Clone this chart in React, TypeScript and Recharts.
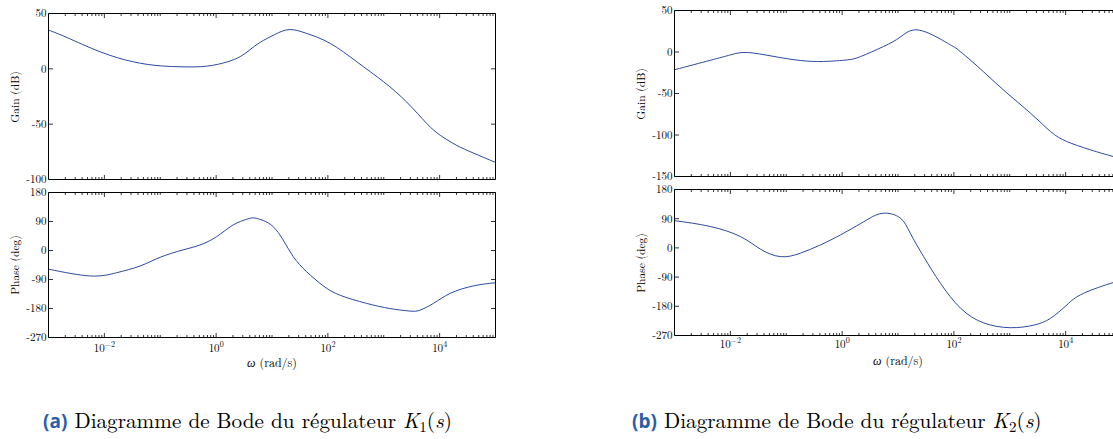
import React from "react";
import { LineChart, Line, XAxis, YAxis } from "recharts";

// ---------- data ----------
const K1_GAIN_W = [0.001, 0.00214, 0.00851, 0.0331, 0.1, 0.257, 0.676, 1.585, 2.69, 3.98, 6.17, 11.2, 20.4, 41.7, 110, 331, 1000, 2570, 5890, 10230, 19950, 39810, 100000];
const K1_GAIN_DB = [35, 28.3, 15.3, 6.3, 2.7, 1.8, 2.4, 6.3, 11, 17, 24, 31, 35.5, 32, 23, 6.3, -11.8, -30, -49.4, -60, -69, -76, -84.6];

const K1_PHASE_W = [0.001, 0.00562, 0.0166, 0.0437, 0.1, 0.257, 0.513, 1.02, 2.0, 3.55, 4.8, 7.0, 10.5, 15.8, 24, 41.7, 83.2, 166, 490, 1288, 2951, 4467, 7762, 15490, 39810, 100000];
const K1_PHASE_DEG = [-58, -79, -69, -48, -21, 2, 17, 43, 79, 97, 101, 93, 74, 33, -19, -66, -110, -139, -164, -180, -188, -185, -164, -133, -110, -100];

const K2_GAIN_W = [0.001, 0.00437, 0.01, 0.02, 0.0603, 0.178, 0.468, 1.23, 2.14, 5.5, 11, 21.9, 57.5, 90, 132, 339, 891, 2344, 5370, 10470, 27540, 70790, 100000];
const K2_GAIN_DB = [-21.4, -10, -3.5, -0.6, -5.4, -10.2, -11.4, -9.5, -5.5, 6.6, 18, 26.7, 15.5, 8, 0.3, -23.8, -49.5, -73.6, -95.8, -107.8, -117.8, -125.9, -128.5];

const K2_PHASE_W = [0.001, 0.00437, 0.0151, 0.0347, 0.0794, 0.178, 0.407, 0.933, 2.14, 3.16, 5.5, 11, 16.6, 28.8, 57.5, 132, 339, 1023, 2692, 5370, 10470, 20890, 70790, 100000];
const K2_PHASE_DEG = [84, 66, 35, -4, -27, -16.5, 9, 40, 75, 92, 107, 92, 45, -27, -109, -186, -231, -246, -238, -217, -176, -140, -107, -103];

const X_DOMAIN: [number, number] = [0.001, 100000];
const MAJOR_TICKS = [0.01, 1, 100, 10000];
const MAJOR_EXP = ["\u22122", "0", "2", "4"];

const K1_GAIN_TICKS = [50, 0, -50, -100];
const K2_GAIN_TICKS = [50, 0, -50, -100, -150];
const PHASE_TICKS = [180, 90, 0, -90, -180, -270];

// ---------- helpers ----------
function buildMinorTicks(): number[] {
  const out: number[] = [];
  for (let e = -3; e <= 4; e++) {
    for (let k = 1; k <= 9; k++) {
      if (k === 1 && (e === -3 || e % 2 === 0)) continue;
      out.push(k * Math.pow(10, e));
    }
  }
  return out;
}
const X_TICKS = [...MAJOR_TICKS, ...buildMinorTicks()].sort((a, b) => a - b);

function majorIndex(v: number) {
  return MAJOR_TICKS.findIndex((m) => Math.abs(v / m - 1) < 1e-6);
}

function zip(w: number[], v: number[]) {
  return w.map((x, i) => ({ w: x, v: v[i] }));
}

const FONT = "'Latin Modern Roman', 'Times New Roman', serif";
const CURVE = "#2b4aa0";
const MAJ = 4.5;
const MIN = 2.5;

const makeBottomTick = (showLabel: boolean, labelDy: number) => (props: any) => {
  const { x, y, payload } = props;
  const idx = majorIndex(payload.value);
  const len = idx >= 0 ? MAJ : MIN;
  return (
    <g>
      <line x1={x} y1={y} x2={x} y2={y - len} stroke="#000" strokeWidth={0.8} />
      {showLabel && idx >= 0 && (
        <text x={x} y={y + labelDy} textAnchor="middle" fontFamily={FONT} fontSize={11} fill="#000">
          10
          <tspan dy={-5} fontSize={8}>{MAJOR_EXP[idx]}</tspan>
        </text>
      )}
    </g>
  );
};

const TopTick = (props: any) => {
  const { x, y, payload } = props;
  const idx = majorIndex(payload.value);
  const len = idx >= 0 ? MAJ : MIN;
  return <line x1={x} y1={y} x2={x} y2={y + len} stroke="#000" strokeWidth={0.8} />;
};

const LeftTick = (props: any) => {
  const { x, y, payload } = props;
  return (
    <g>
      <line x1={x} y1={y} x2={x + MAJ} y2={y} stroke="#000" strokeWidth={0.8} />
      <text x={x - 2} y={y} dy="0.35em" textAnchor="end" fontFamily={FONT} fontSize={11} fill="#000">
        {String(payload.value)}
      </text>
    </g>
  );
};

const RightTick = (props: any) => {
  const { x, y } = props;
  return <line x1={x} y1={y} x2={x - MAJ} y2={y} stroke="#000" strokeWidth={0.8} />;
};

type PanelProps = {
  plotLeft: number;
  plotTop: number;
  plotW: number;
  plotH: number;
  bottomArea: number;
  w: number[];
  v: number[];
  yDomain: [number, number];
  yTicks: number[];
  showX: boolean;
  labelDy: number;
};

const LEFT_AREA = 48.5;
const TOP_AREA = 12.5;
const RIGHT_AREA = 20;

function Panel(p: PanelProps) {
  const data = zip(p.w, p.v);
  const width = LEFT_AREA + p.plotW + RIGHT_AREA;
  const height = TOP_AREA + p.plotH + p.bottomArea;
  return (
    <div style={{ position: "absolute", left: p.plotLeft - LEFT_AREA, top: p.plotTop - TOP_AREA, width, height }}>
      <LineChart width={width} height={height} data={data} margin={{ top: 0, right: 0, bottom: 0, left: 0 }}>
        <XAxis
          xAxisId="b"
          dataKey="w"
          type="number"
          scale="log"
          domain={X_DOMAIN}
          allowDataOverflow
          ticks={X_TICKS}
          interval={0}
          height={p.bottomArea}
          tickSize={0}
          tickMargin={0}
          tickLine={false}
          axisLine={{ stroke: "#000", strokeWidth: 1 }}
          tick={makeBottomTick(p.showX, p.labelDy)}
        />
        <XAxis
          xAxisId="t"
          orientation="top"
          dataKey="w"
          type="number"
          scale="log"
          domain={X_DOMAIN}
          allowDataOverflow
          ticks={X_TICKS}
          interval={0}
          height={TOP_AREA}
          tickSize={0}
          tickMargin={0}
          tickLine={false}
          axisLine={{ stroke: "#000", strokeWidth: 1 }}
          tick={TopTick}
        />
        <YAxis
          yAxisId="l"
          type="number"
          domain={p.yDomain}
          allowDataOverflow
          ticks={p.yTicks}
          interval={0}
          width={LEFT_AREA}
          tickSize={0}
          tickMargin={0}
          tickLine={false}
          axisLine={{ stroke: "#000", strokeWidth: 1 }}
          tick={LeftTick}
        />
        <YAxis
          yAxisId="r"
          orientation="right"
          type="number"
          domain={p.yDomain}
          allowDataOverflow
          ticks={p.yTicks}
          interval={0}
          width={RIGHT_AREA}
          tickSize={0}
          tickMargin={0}
          tickLine={false}
          axisLine={{ stroke: "#000", strokeWidth: 1 }}
          tick={RightTick}
        />
        <Line
          xAxisId="b"
          yAxisId="l"
          type="natural"
          dataKey="v"
          stroke={CURVE}
          strokeWidth={1}
          dot={false}
          activeDot={false}
          isAnimationActive={false}
        />
        <Line
          xAxisId="t"
          yAxisId="r"
          type="natural"
          dataKey="v"
          stroke="none"
          dot={false}
          activeDot={false}
          isAnimationActive={false}
        />
      </LineChart>
    </div>
  );
}

function YTitle({ cx, cy, text }: { cx: number; cy: number; text: string }) {
  return (
    <div
      style={{
        position: "absolute",
        left: cx,
        top: cy,
        transform: "translate(-50%, -50%) rotate(-90deg)",
        whiteSpace: "nowrap",
        fontFamily: FONT,
        fontSize: 11.5,
        lineHeight: 1,
        color: "#000",
      }}
    >
      {text}
    </div>
  );
}

function XTitle({ cx, cy }: { cx: number; cy: number }) {
  return (
    <div
      style={{
        position: "absolute",
        left: cx,
        top: cy,
        transform: "translate(-50%, -50%)",
        whiteSpace: "nowrap",
        fontFamily: FONT,
        fontSize: 12,
        lineHeight: 1,
        color: "#000",
      }}
    >
      <i>ω</i> (rad/s)
    </div>
  );
}

function Caption({ left, tag, idx }: { left: number; tag: string; idx: string }) {
  return (
    <div
      style={{
        position: "absolute",
        left,
        top: 409,
        whiteSpace: "nowrap",
        fontFamily: FONT,
        fontSize: 21.2,
        lineHeight: "21px",
        color: "#000",
      }}
    >
      <span style={{ fontFamily: "'Open Sans', 'Liberation Sans', sans-serif", fontWeight: 700, color: "#2c5da8", fontSize: 19 }}>
        ({tag})
      </span>{" "}
      Diagramme de Bode du régulateur <i>K</i>
      <sub style={{ fontSize: 15, verticalAlign: "-4px" }}>{idx}</sub>(<i>s</i>)
    </div>
  );
}

const PLOT_W = 447;

export default function App() {
  return (
    <div style={{ position: "absolute", left: 0, top: 0, width: 1113, height: 439, overflow: "hidden", background: "#fff" }}>
      {/* (a) */}
      <Panel plotLeft={48.5} plotTop={13.5} plotW={PLOT_W} plotH={166} bottomArea={6} w={K1_GAIN_W} v={K1_GAIN_DB} yDomain={[-100, 50]} yTicks={K1_GAIN_TICKS} showX={false} labelDy={14} />
      <Panel plotLeft={48.5} plotTop={192.5} plotW={PLOT_W} plotH={145} bottomArea={40} w={K1_PHASE_W} v={K1_PHASE_DEG} yDomain={[-270, 180]} yTicks={PHASE_TICKS} showX={true} labelDy={14} />
      <YTitle cx={15} cy={96.5} text="Gain (dB)" />
      <YTitle cx={15} cy={265} text="Phase (deg)" />
      <XTitle cx={272} cy={362} />
      <Caption left={43} tag="a" idx="1" />

      {/* (b) */}
      <Panel plotLeft={674.5} plotTop={10.5} plotW={PLOT_W} plotH={166} bottomArea={6} w={K2_GAIN_W} v={K2_GAIN_DB} yDomain={[-150, 50]} yTicks={K2_GAIN_TICKS} showX={false} labelDy={13} />
      <Panel plotLeft={674.5} plotTop={189.5} plotW={PLOT_W} plotH={146} bottomArea={40} w={K2_PHASE_W} v={K2_PHASE_DEG} yDomain={[-270, 180]} yTicks={PHASE_TICKS} showX={true} labelDy={12.5} />
      <YTitle cx={641} cy={93.5} text="Gain (dB)" />
      <YTitle cx={641} cy={262.5} text="Phase (deg)" />
      <XTitle cx={898} cy={360} />
      <Caption left={632} tag="b" idx="2" />
    </div>
  );
}
